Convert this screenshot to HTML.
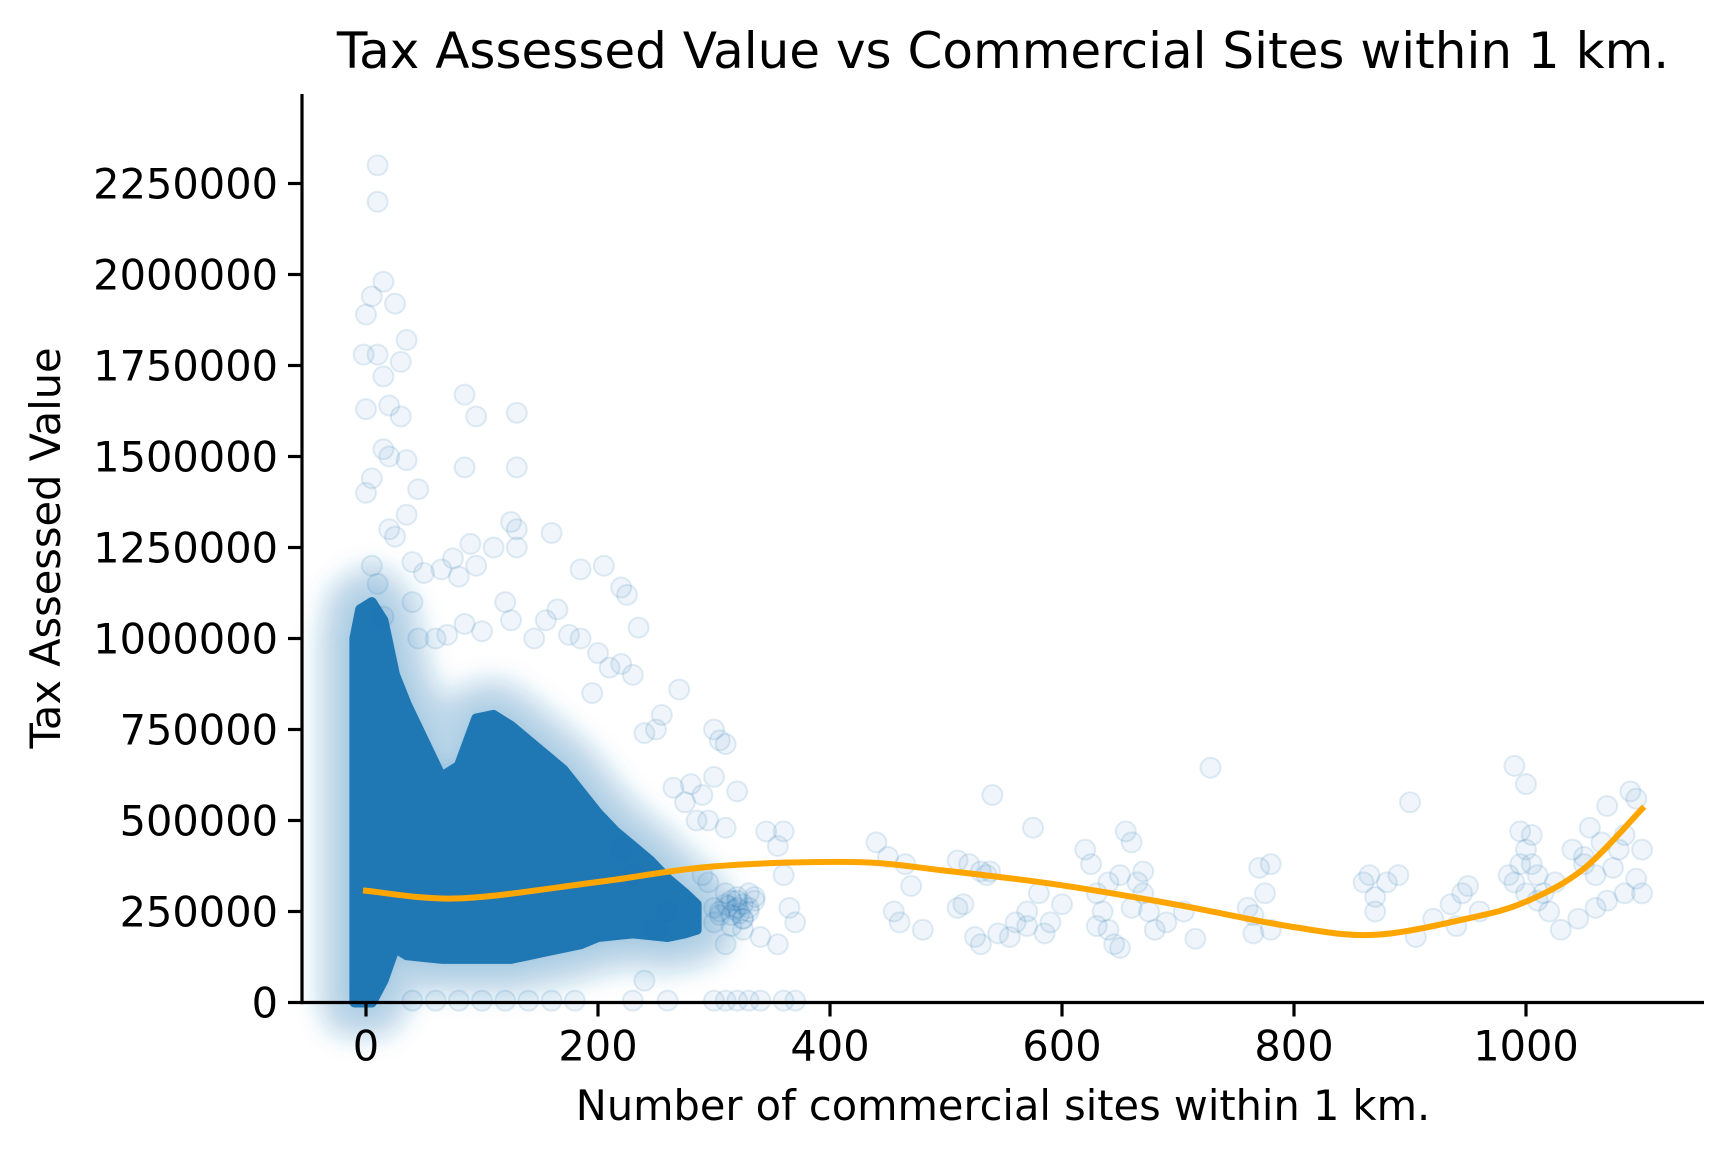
<!DOCTYPE html>
<html><head><meta charset="utf-8"><style>
html,body{margin:0;padding:0;background:#fff;}
svg{display:block;font-family:"DejaVu Sans","Liberation Sans",sans-serif;}
</style></head><body>
<svg id="chart" width="1726" height="1154" viewBox="0 0 1726 1154">
<defs><filter id="blur" x="-30%" y="-30%" width="160%" height="160%"><feGaussianBlur stdDeviation="12"/></filter></defs>
<text x="1003" y="68" font-size="50" text-anchor="middle" fill="#000">Tax Assessed Value vs Commercial Sites within 1 km.</text>
<g id="plot"></g>
<g id="axes"></g>
<text x="1003" y="1120" font-size="41.5" text-anchor="middle">Number of commercial sites within 1 km.</text>
<text x="0" y="0" font-size="41.5" text-anchor="middle" transform="translate(60,548) rotate(-90)">Tax Assessed Value</text>
</svg>
<script>
// data (x = sites, v = value in thousands)
const xTicks = [0,200,400,600,800,1000];
const yTicks = [0,250000,500000,750000,1000000,1250000,1500000,1750000,2000000,2250000];
const blobX  = [-10,-5,5,15,25,35,50,65,80,95,110,125,140,155,170,185,200,215,230,245,260,275,285];
const blobLo = [0,0,0,60,150,130,125,120,120,120,120,120,130,140,150,160,180,185,190,185,180,190,200];
const blobHi = [1000,1080,1100,1050,900,820,720,620,650,780,790,760,720,680,640,580,520,470,430,390,340,300,270];
const fitX = [0,80,200,300,420,500,600,700,800,870,950,1000,1050,1100];
const fitV = [307,286,331,374,386,362,322,268,207,186,231,277,368,532];
const ptsX = [510,520,530,535,538,540,515,525,530,545,510,560,555,570,575,580,590,600,585,570,
620,625,630,635,640,645,650,655,660,665,670,675,680,640,630,660,650,670,690,705,715,728,
760,765,770,775,780,765,780,860,865,870,880,870,890,900,905,920,935,945,950,940,960,
990,1000,995,1000,1005,1010,1000,990,1010,1020,1030,1005,1040,1050,1060,1055,1070,1080,1090,1095,1100,1095,1100,1085,1070,1060,1045,1050,1065,1075,1085,1025,1015,995,985,
300,305,310,320,300,295,310,315,320,325,330,335,340,345,355,360,360,365,355,370,310,325,440,450,455,460,470,480,465,
10,10,15,5,25,0,-2,10,35,30,15,20,0,30,15,20,35,45,5,0,35,20,40,50,5,10,25,15,40,45,
85,85,95,130,130,125,130,160,130,110,90,75,65,95,80,120,125,155,165,185,205,220,225,235,175,70,85,100,60,145,200,185,195,210,220,230,250,255,270,265,275,280,285,290,240,220,230,260,250,240,
40,60,80,100,120,140,160,180,230,260,300,310,320,330,340,360,370,
300,305,310,315,320,325,330,310,320,330,300,315,290,295,305,325,335,318,312,322];
const ptsV = [390,380,360,350,360,570,270,180,160,190,260,220,180,250,480,300,220,270,190,210,
420,380,300,250,200,160,150,470,440,330,300,250,200,330,210,260,350,360,220,250,175,645,
260,240,370,300,200,190,380,330,350,290,330,250,350,550,180,230,270,300,320,210,250,
650,600,470,420,380,350,300,330,280,250,200,460,420,380,350,480,540,420,580,560,420,340,300,300,280,260,230,400,440,370,460,330,300,380,350,
750,720,710,580,620,500,480,280,260,230,300,280,180,470,430,470,350,260,160,220,160,200,440,400,250,220,320,200,380,
2300,2200,1980,1940,1920,1890,1780,1780,1820,1760,1720,1640,1630,1610,1520,1500,1490,1410,1440,1400,1340,1300,1210,1180,1200,1150,1280,1060,1100,1000,
1670,1470,1610,1620,1470,1320,1300,1290,1250,1250,1260,1220,1190,1200,1170,1100,1050,1050,1080,1190,1200,1140,1120,1030,1010,1010,1040,1020,1000,1000,960,1000,850,920,930,900,750,790,860,590,550,600,500,570,740,420,350,250,200,60,
5,5,5,5,5,5,5,5,5,5,5,5,5,5,5,5,5,
260,250,270,240,280,230,260,300,290,250,220,210,350,330,240,270,290,255,265,245];

const L=302,R=1704,T=94,B=1002.5;
function sx(x){return 366 + (x-0)*1.16;}
function sy(v){return B - v*1000*(91/250000);}
const NS='http://www.w3.org/2000/svg';
function mk(tag,attrs,parent){const e=document.createElementNS(NS,tag);for(const k in attrs)e.setAttribute(k,attrs[k]);parent.appendChild(e);return e;}
const plot=document.getElementById('plot'), axes=document.getElementById('axes');

let up=blobX.map((x,i)=>sx(x)+','+sy(blobHi[i]));
let dn=blobX.map((x,i)=>sx(x)+','+sy(blobLo[i])).reverse();
const halo=mk('polygon',{points:up.concat(dn).join(' '),fill:'#1f77b4','fill-opacity':'0.3',stroke:'#1f77b4','stroke-opacity':'0.3','stroke-width':'70','stroke-linejoin':'round',filter:'url(#blur)'},plot);


const blob=mk('polygon',{points:up.concat(dn).join(' '),fill:'#1f77b4',stroke:'#1f77b4','stroke-width':'10','stroke-linejoin':'round'},plot);



ptsX.forEach((x,i)=>{
  const c=mk('circle',{cx:sx(x),cy:sy(ptsV[i]),r:10,fill:'rgba(31,119,180,0.07)',stroke:'rgba(31,119,180,0.13)','stroke-width':2},plot);
  
  
});

const P=fitX.map((x,i)=>[sx(x),sy(fitV[i])]);
let d='M'+P[0][0]+','+P[0][1];
for(let i=0;i<P.length-1;i++){
  const p0=P[Math.max(0,i-1)],p1=P[i],p2=P[i+1],p3=P[Math.min(P.length-1,i+2)];
  d+=' C'+(p1[0]+(p2[0]-p0[0])/6)+','+(p1[1]+(p2[1]-p0[1])/6)+' '+(p2[0]-(p3[0]-p1[0])/6)+','+(p2[1]-(p3[1]-p1[1])/6)+' '+p2[0]+','+p2[1];
}
const fit=mk('path',{d:d,fill:'none',stroke:'#ffa500','stroke-width':6,'stroke-linecap':'square'},plot);



const ys=mk('line',{x1:L,y1:T,x2:L,y2:B+1.6,stroke:'#000','stroke-width':3.2},axes);


const xs=mk('line',{x1:L-1.6,y1:B,x2:R,y2:B,stroke:'#000','stroke-width':3.2},axes);


xTicks.forEach(t=>{
  const l=mk('line',{x1:sx(t),y1:B,x2:sx(t),y2:B+14,stroke:'#000','stroke-width':3.2},axes);
  
  
  const tx=mk('text',{x:sx(t),y:B+58,'font-size':41.5,'text-anchor':'middle'},axes);
  tx.textContent=String(t);
  
  
});
yTicks.forEach(t=>{
  const y=sy(t/1000);
  const l=mk('line',{x1:L-14,y1:y,x2:L,y2:y,stroke:'#000','stroke-width':3.2},axes);
  
  
  const tx=mk('text',{x:L-24,y:y+15,'font-size':41.5,'text-anchor':'end'},axes);
  tx.textContent=String(t);
  
  
});
</script>
</body></html>
